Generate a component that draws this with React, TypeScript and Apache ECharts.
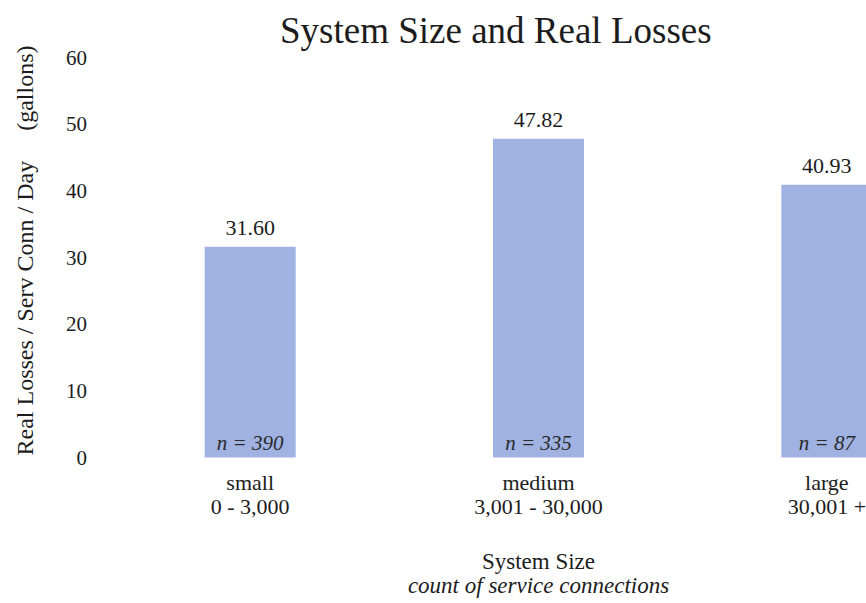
import React, { useEffect, useRef } from "react";
import * as echarts from "echarts";

const categories = ["small\n0 - 3,000", "medium\n3,001 - 30,000", "large\n30,001 +"];
const lossValues = [31.6, 47.82, 40.93];
const sampleCounts = [390, 335, 87];
const yTicks = [0, 10, 20, 30, 40, 50, 60];

const FONT = "'Liberation Serif', 'Times New Roman', serif";
const INK = "#1c1c1c";

export default function App() {
  const ref = useRef<HTMLDivElement>(null);

  useEffect(() => {
    if (!ref.current) return;
    const chart = echarts.init(ref.current, undefined, { renderer: "svg" });
    chart.setOption({
      animation: false,
      backgroundColor: "#ffffff",
      textStyle: { fontFamily: FONT, color: INK },
      title: {
        text: "System Size and Real Losses",
        left: 275,
        top: 7,
        textStyle: { fontFamily: FONT, fontSize: 37, fontWeight: "normal", color: INK },
      },
      grid: { left: 106, top: 57.5, width: 865, height: 400 },
      xAxis: {
        type: "category",
        data: categories,
        axisLine: { show: false },
        axisTick: { show: false },
        axisLabel: {
          fontFamily: FONT,
          fontSize: 22,
          lineHeight: 24,
          color: INK,
          margin: 13,
          interval: 0,
        },
        name: "{a|System Size}\n{b|count of service connections}",
        nameLocation: "middle",
        nameGap: 92,
        nameTextStyle: {
          rich: {
            a: { fontFamily: FONT, fontSize: 23, lineHeight: 24, color: INK },
            b: { fontFamily: FONT, fontSize: 23, lineHeight: 24, fontStyle: "italic", color: INK },
          },
        },
      },
      yAxis: {
        type: "value",
        min: yTicks[0],
        max: yTicks[yTicks.length - 1],
        interval: 10,
        splitLine: { show: false },
        axisLine: { show: false },
        axisTick: { show: false },
        axisLabel: { fontFamily: FONT, fontSize: 21, color: INK, margin: 19 },
        name: "Real Losses / Serv Conn / Day\u00a0\u00a0\u00a0\u00a0\u00a0(gallons)",
        nameLocation: "middle",
        nameGap: 69,
        nameTextStyle: {
          fontFamily: FONT,
          fontSize: 24,
          color: INK,
          padding: [0, 0, 0, 14],
        },
      },
      series: [
        {
          type: "bar",
          data: lossValues,
          barWidth: 91,
          itemStyle: { color: "#9fb2e2" },
          label: {
            show: true,
            position: "top",
            distance: 8,
            fontFamily: FONT,
            fontSize: 22,
            color: INK,
            formatter: (p: any) => Number(p.value).toFixed(2),
          },
        },
        {
          type: "bar",
          data: lossValues,
          barWidth: 91,
          barGap: "-100%",
          itemStyle: { color: "rgba(0,0,0,0)" },
          label: {
            show: true,
            position: "insideBottom",
            distance: 4,
            fontFamily: FONT,
            fontSize: 21,
            fontStyle: "italic",
            color: "#2a2a2a",
            formatter: (p: any) => `n = ${sampleCounts[p.dataIndex]}`,
          },
        },
      ],
    });
    return () => chart.dispose();
  }, []);

  return (
    <div
      style={{
        position: "absolute",
        left: 0,
        top: 0,
        width: 866,
        height: 603,
        overflow: "hidden",
        background: "#fff",
      }}
    >
      <div ref={ref} style={{ width: 1000, height: 603 }} />
    </div>
  );
}
